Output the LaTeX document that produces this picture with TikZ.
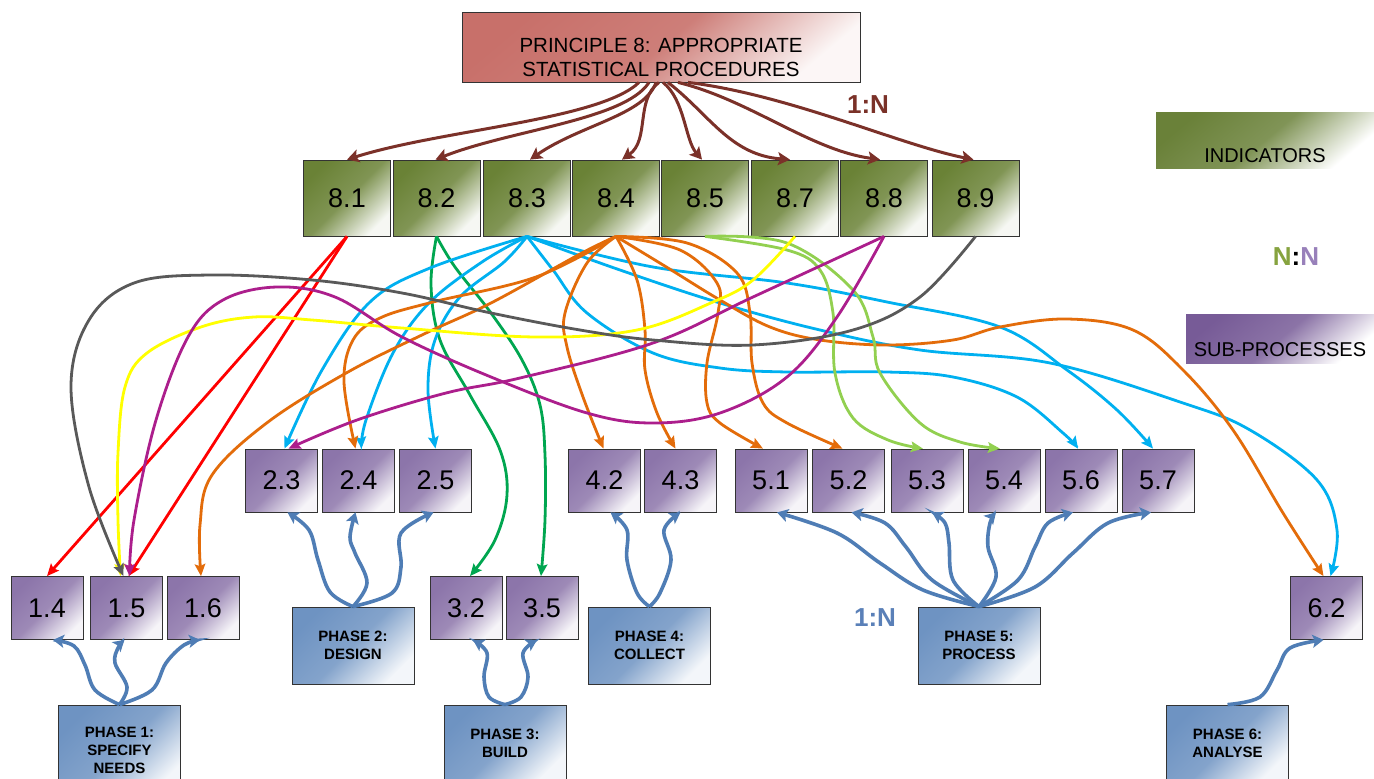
\documentclass[tikz,border=0pt]{standalone}
\usepackage{fontspec}
\setmainfont{Liberation Sans}
\usetikzlibrary{arrows.meta}
\definecolor{pred}{HTML}{C8706A}
\definecolor{indg}{HTML}{6A8236}
\definecolor{subp}{HTML}{8C75AA}
\definecolor{phb}{HTML}{6E93C2}
\definecolor{legg}{HTML}{6A8139}
\definecolor{legp}{HTML}{775B97}
\definecolor{brownarr}{HTML}{7B3129}
\definecolor{bluearr}{HTML}{4F7DB5}
\definecolor{cred}{HTML}{FF0000}
\definecolor{cgreen}{HTML}{00A650}
\definecolor{ccyan}{HTML}{00B0F0}
\definecolor{corange}{HTML}{E36C0A}
\definecolor{clgreen}{HTML}{92D050}
\definecolor{cyellow}{HTML}{FFFF00}
\definecolor{cmag}{HTML}{AC1E8C}
\definecolor{cgray}{HTML}{595959}
\definecolor{nng}{HTML}{86A33F}
\definecolor{nnp}{HTML}{9880BA}
\definecolor{onebrown}{HTML}{7A3128}
\definecolor{oneblue}{HTML}{5A80B8}
\begin{document}
\begin{tikzpicture}[x=1pt,y=-1pt,
  gbox/.style={draw=black!80, line width=0.8pt, inner sep=0pt, align=center},
  ind/.style={gbox, minimum width=87pt, minimum height=76pt, top color=indg, bottom color=indg!6!white, middle color=indg!85!white, shading angle=45, font=\fontsize{27}{30}\selectfont},
  sub/.style={gbox, minimum width=72pt, minimum height=63pt, top color=subp, bottom color=subp!8!white, middle color=subp!85!white, shading angle=45, font=\fontsize{27}{30}\selectfont},
  phase/.style={gbox, minimum width=122pt, minimum height=77pt, top color=phb, bottom color=phb!8!white, middle color=phb!85!white, shading angle=45, font=\bfseries\fontsize{15}{18}\selectfont},
  princ/.style={gbox, minimum width=398pt, minimum height=70pt, top color=pred, bottom color=pred!6!white, middle color=pred!90!white, shading angle=40},
  ptext/.style={inner sep=0pt, align=center, font=\fontsize{20.5}{24}\selectfont},
  legind/.style={inner sep=0pt, minimum width=218pt, minimum height=56pt, top color=legg, bottom color=white, middle color=legg!85!white, shading angle=40, font=\fontsize{20}{24}\selectfont, text height=44pt, text depth=0pt},
  legsub/.style={inner sep=0pt, minimum width=188pt, minimum height=49pt, top color=legp, bottom color=white, middle color=legp!85!white, shading angle=40, font=\fontsize{20}{24}\selectfont, text height=36pt, text depth=0pt},
  ratio/.style={inner sep=0pt, font=\bfseries\fontsize{26}{30}\selectfont},
  pa/.style={draw=brownarr, line width=3pt, -{Stealth[length=12pt,width=13pt,inset=2.5pt]}},
  ca/.style={line width=2.8pt, -{Stealth[length=12pt,width=10.5pt,inset=2pt]}},
  ba/.style={color=bluearr, line width=3.6pt, -{Stealth[length=11pt,width=13pt,inset=2.5pt]}},
  sm/.style={smooth, tension=0.6}
]
\fill[white] (0,0) rectangle (1374,779);
\useasboundingbox (0,0) rectangle (1374,779);
\clip (0,0) rectangle (1374,779);

% principle
\node[princ] (P) at (661,47) {};
\node[ptext] (Pt) at (661,57.5) {PRINCIPLE 8: APPROPRIATE\\STATISTICAL PROCEDURES};

% indicators
\node[ind] (i81) at (347,198) {8.1};
\node[ind] (i82) at (436.5,198) {8.2};
\node[ind] (i83) at (527,198) {8.3};
\node[ind] (i84) at (616,198) {8.4};
\node[ind] (i85) at (705,198) {8.5};
\node[ind] (i87) at (795,198) {8.7};
\node[ind] (i88) at (884,198) {8.8};
\node[ind] (i89) at (975.5,198) {8.9};

% sub-processes row 1
\node[sub] (s23) at (281.5,480.5) {2.3};
\node[sub] (s24) at (358.5,480.5) {2.4};
\node[sub] (s25) at (435.5,480.5) {2.5};
\node[sub] (s42) at (604.5,480.5) {4.2};
\node[sub] (s43) at (680.5,480.5) {4.3};
\node[sub] (s51) at (771,480.5) {5.1};
\node[sub] (s52) at (848.5,480.5) {5.2};
\node[sub] (s53) at (927,480.5) {5.3};
\node[sub] (s54) at (1004,480.5) {5.4};
\node[sub] (s56) at (1081,480.5) {5.6};
\node[sub] (s57) at (1158,480.5) {5.7};
% row 2
\node[sub] (s14) at (47,608) {1.4};
\node[sub] (s15) at (126.5,608) {1.5};
\node[sub] (s16) at (203,608) {1.6};
\node[sub] (s32) at (466,608) {3.2};
\node[sub] (s35) at (542,608) {3.5};
\node[sub] (s62) at (1326.5,608) {6.2};

% phases
\node[phase, minimum height=90pt] (ph1) at (119.5,750) {PHASE 1:\\SPECIFY\\NEEDS};
\node[phase] (ph2) at (353,645.5) {PHASE 2:\\DESIGN};
\node[phase] (ph3) at (505,743.5) {PHASE 3:\\BUILD};
\node[phase] (ph4) at (649.5,645.5) {PHASE 4:\\COLLECT};
\node[phase] (ph5) at (979,645.5) {PHASE 5:\\PROCESS};
\node[phase] (ph6) at (1227.5,743.5) {PHASE 6:\\ANALYSE};

% legend
\node[legind] (LI) at (1265,140) {INDICATORS};
\node[legsub] (LS) at (1280,338.5) {SUB-PROCESSES};
\node[ratio] (NN) at (1296,257) {\textcolor{nng}{N}\textcolor{black}{:}\textcolor{nnp}{N}};
\node[ratio, text=onebrown] (R1) at (868,105) {1:N};
\node[ratio, text=oneblue] (R2) at (875,618) {1:N};

% principle -> indicators
\draw[pa] ([xshift=-22pt]P.south) .. controls (600,120) and (440,130) .. (i81.north);
\draw[pa] ([xshift=-12pt]P.south) .. controls (625,120) and (510,130) .. ([xshift=-1pt]i82.north);
\draw[pa] ([xshift=-5pt]P.south) .. controls (645,115) and (580,125) .. ([xshift=3pt]i83.north);
\draw[pa] ([xshift=-2pt]P.south) .. controls (635,100) and (650,140) .. ([xshift=6pt]i84.north);
\draw[pa] ([xshift=2pt]P.south) .. controls (685,100) and (685,140) .. ([xshift=-3pt]i85.north);
\draw[pa] ([xshift=7pt]P.south) .. controls (710,115) and (730,155) .. ([xshift=-5pt]i87.north);
\draw[pa] ([xshift=17pt]P.south) .. controls (750,100) and (810,150) .. ([xshift=-4pt]i88.north);
\draw[pa] ([xshift=27pt]P.south) .. controls (790,95) and (900,145) .. ([xshift=-2pt]i89.north);

% red (8.1)
\draw[ca, color=cred] (i81.south) -- (s14.north);
\draw[ca, color=cred] (i81.south) -- ([xshift=2pt]s15.north);

% green (8.2)
\draw[ca, color=cgreen] plot[sm] coordinates {(i82.south) (431,285) (440,340) (470,395) (500,450) (507,495) (495,540) ([xshift=4pt]s32.north)};
\draw[ca, color=cgreen] plot[sm] coordinates {(i82.south) (455,267) (491,313) (522,360) (540,405) (545,455) (545,520) ([xshift=-1pt]s35.north)};

% cyan (8.3)
\draw[ca, color=ccyan] plot[sm] coordinates {(i83.south) (430,268) (370,302) (322,370) ([xshift=3pt]s23.north)};
\draw[ca, color=ccyan] plot[sm] coordinates {(i83.south) (482,262) (429,303) (393,353) (366,420) ([xshift=3pt]s24.north)};
\draw[ca, color=ccyan] plot[sm] coordinates {(i83.south) (504,262) (460,297) (435,340) (428,390) (s25.north)};
\draw[ca, color=ccyan] plot[sm] coordinates {(i83.south) (553,270) (587,313) (653,353) (720,368) (787,372) (887,372) (953,377) (1017,397) (1063,433) ([xshift=-3pt]s56.north)};
\draw[ca, color=ccyan] plot[sm] coordinates {(i83.south) (653,267) (787,283) (887,302) (1000,327) (1067,370) (1117,410) ([xshift=-5pt]s57.north)};
\draw[ca, color=ccyan] plot[sm] coordinates {(i83.south) (620,270) (720,303) (820,330) (920,350) (1050,363) (1183,403) (1250,430) (1317,480) (1337,530) ([xshift=4pt]s62.north)};

% orange (8.4)
\draw[ca, color=corange] plot[sm] coordinates {(i84.south) (580,254) (491,303) (424,334) (348,372) (268,422) (212,475) (200,525) ([xshift=-2pt]s16.north)};
\draw[ca, color=corange] plot[sm] coordinates {(i84.south) (536,277) (433,302) (380,318) (353,340) (344,382) ([xshift=-3pt]s24.north)};
\draw[ca, color=corange] plot[sm] coordinates {(i84.south) (587,263) (565,313) (567,347) (583,397) ([xshift=-1pt]s42.north)};
\draw[ca, color=corange] plot[sm] coordinates {(i84.south) (637,280) (645,330) (645,370) (657,413) ([xshift=-5pt]s43.north)};
\draw[ca, color=corange] plot[sm] coordinates {(i84.south) (680,250) (717,283) (718,313) (707,363) (707,403) (720,423) ([xshift=-8pt]s51.north)};
\draw[ca, color=corange] plot[sm] coordinates {(i84.south) (687,243) (737,273) (750,313) (752,363) (763,403) (787,423) ([xshift=-6pt]s52.north)};
\draw[ca, color=corange] plot[sm] coordinates {(i84.south) (668,268) (720,300) (770,327) (820,340) (887,345) (953,340) (1000,327) (1067,319) (1133,330) (1183,370) (1233,430) (1283,513) ([xshift=-3pt]s62.north)};

% light green (8.5)
\draw[ca, color=clgreen] plot[sm] coordinates {(i85.south) (787,250) (820,270) (833,313) (835,373) (853,418) (888,440) ([xshift=-4pt]s53.north)};
\draw[ca, color=clgreen] plot[sm] coordinates {(i85.south) (787,243) (853,290) (873,337) (880,373) (920,423) (960,442) ([xshift=-4pt]s54.north)};

% yellow (8.7)
\draw[ca, color=cyellow] plot[sm] coordinates {(i87.south) (753,280) (713,302) (637,330) (536,337) (402,328) (312,320) (254,317) (201,327) (147,353) (125,387) (118,453) (118,520) ([xshift=-6pt]s15.north)};

% magenta (8.8)
\draw[ca, color=cmag] plot[sm] coordinates {(i88.south) (753,297) (653,343) (520,378) (446,393) (357,420) ([xshift=7pt]s23.north)};
\draw[ca, color=cmag] plot[sm] coordinates {(i88.south) (837,317) (787,377) (720,413) (653,423) (587,413) (491,377) (402,337) (335,297) (277,287) (223,300) (188,337) (156,420) (134,520) ([xshift=3pt]s15.north)};

% gray (8.9)
\draw[ca, color=cgray] plot[sm] coordinates {(i89.south) (920,297) (853,330) (753,345) (653,340) (580,330) (491,313) (402,293) (312,280) (210,275) (134,283) (89,320) (71,387) (89,487) ([xshift=-3pt]s15.north)};

% phases -> sub-processes
\draw[ba] plot[sm] coordinates {(ph1.north) (95,690) (85,665) (74,646) ([xshift=6pt]s14.south)};
\draw[ba] plot[sm] coordinates {(ph1.north) (127,687) (115,663) (118,648) ([xshift=-2pt]s15.south)};
\draw[ba] plot[sm] coordinates {(ph1.north) (152,690) (166,663) (184,645) ([xshift=-3pt]s16.south)};
\draw[ba] plot[sm] coordinates {(ph2.north) (330,592) (318,560) (309,530) ([xshift=6pt]s23.south)};
\draw[ba] plot[sm] coordinates {(ph2.north) (367,583) (355,553) (350,537) ([xshift=-3pt]s24.south)};
\draw[ba] plot[sm] coordinates {(ph2.north) (392,593) (401,567) (401,533) ([xshift=-2pt]s25.south)};
\draw[ba] plot[sm] coordinates {(ph3.north) (489,697) (484,677) (487,653) ([xshift=7pt]s32.south)};
\draw[ba] plot[sm] coordinates {(ph3.north) (521,697) (528,677) (523,653) ([xshift=-5pt]s35.south)};
\draw[ba] plot[sm] coordinates {(ph4.north) (637,593) (627,560) (627,530) ([xshift=6pt]s42.south)};
\draw[ba] plot[sm] coordinates {(ph4.north) (660,593) (671,560) (664,530) (s43.south)};
\draw[ba] plot[sm] coordinates {(ph5.north) (923,590) (880,563) (837,533) ([xshift=6pt]s51.south)};
\draw[ba] plot[sm] coordinates {(ph5.north) (932,580) (906,547) (885,523) ([xshift=3pt]s52.south)};
\draw[ba] plot[sm] coordinates {(ph5.north) (953,580) (949,543) (945,523) ([xshift=5pt]s53.south)};
\draw[ba] plot[sm] coordinates {(ph5.north) (996,577) (988,547) (990,523) ([xshift=-8pt]s54.south)};
\draw[ba] plot[sm] coordinates {(ph5.north) (1018,580) (1035,547) (1048,523) ([xshift=-8pt]s56.south)};
\draw[ba] plot[sm] coordinates {(ph5.north) (1035,587) (1073,553) (1108,523) ([xshift=-7pt]s57.south)};
\draw[ba] plot[sm] coordinates {(ph6.north) (1260,697) (1277,670) (1290,648) ([xshift=-3pt]s62.south)};
\end{tikzpicture}
\end{document}
